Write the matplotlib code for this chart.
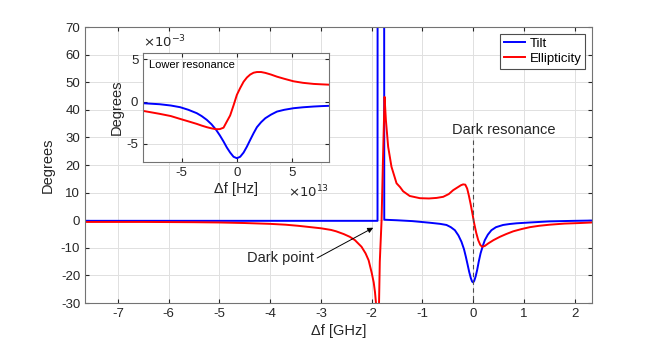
import numpy as np
from matplotlib import pyplot as plt

plt.rcParams['font.family'] = ['Liberation Sans', 'DejaVu Sans']
plt.rcParams['axes.unicode_minus'] = False

# main plot, detuning in GHz, angles in degrees
tilt_x = [-7.65, -6.0, -4.0, -3.0, -2.3, -1.95, -1.885, -1.883, -1.754, -1.752, -1.5, -1.2,
          -0.85, -0.65, -0.525, -0.44, -0.36, -0.29, -0.23, -0.18, -0.144, -0.11, -0.078, -0.045,
          -0.02, 0.0, 0.02, 0.05, 0.079, 0.11, 0.146, 0.19, 0.23, 0.29, 0.36, 0.45, 0.59, 0.72,
          0.855, 1.117, 1.5, 2.0, 2.34]
tilt_y = [-0.2, -0.2, -0.2, -0.2, -0.2, -0.2, -0.2, 90, 90, 0.2, 0.0, -0.3,
          -0.9, -1.3, -1.7, -2.5, -3.6, -5.5, -7.8, -10.5, -13.2, -16.0, -18.7, -21.0,
          -22.2, -22.5, -22.0, -20.3, -18.0, -15.0, -12.0, -9.3, -7.2, -5.2, -3.6, -2.5, -1.7, -1.35,
          -1.1, -0.8, -0.4, -0.2, -0.1]

ell_x = [-7.65, -6.5, -5.5, -5.0, -4.5, -4.0, -3.7, -3.45, -3.2, -3.0, -2.8, -2.7, -2.55, -2.43,
         -2.33, -2.2, -2.12, -2.06, -2.0, -1.96, -1.935, -1.915, -1.895, -1.88, -1.865, -1.84,
         -1.805, -1.78, -1.746, -1.72, -1.675, -1.61, -1.51, -1.44, -1.38, -1.25, -1.05, -0.87,
         -0.72, -0.59, -0.48, -0.394, -0.3, -0.24, -0.197, -0.155, -0.118, -0.085, -0.052, -0.015,
         0.02, 0.06, 0.1, 0.14, 0.177, 0.23, 0.296, 0.4, 0.526, 0.65, 0.79, 0.95, 1.117, 1.3,
         1.51, 1.8, 2.1, 2.34]
ell_y = [-0.6, -0.6, -0.7, -0.8, -1.0, -1.3, -1.6, -2.0, -2.5, -2.9, -3.5, -4.0, -5.0, -6.0,
         -7.2, -9.6, -12.0, -14.5, -19.0, -22.5, -26.0, -30.0, -40.0, -45.0, -40.0, -15.0,
         0.0, 20.0, 44.7, 36.3, 26.6, 19.4, 13.4, 12.0, 10.5, 8.8, 8.0, 7.9,
         8.1, 8.5, 9.5, 10.9, 12.0, 12.7, 13.0, 12.9, 11.5, 9.0, 6.1, 2.5,
         -1.1, -4.5, -7.2, -8.9, -9.6, -9.3, -8.4, -7.2, -6.0, -5.0, -4.0, -3.2, -2.5, -2.0,
         -1.6, -1.2, -1.0, -0.8]

# inset, lower resonance (x in 1e13 Hz, y in 1e-3 degrees)
in_x = [-8.5, -7.0, -6.0, -5.15, -4.4, -3.64, -3.2, -2.73, -2.3, -1.88, -1.55, -1.21, -0.91,
        -0.61, -0.3, 0.0, 0.3, 0.61, 0.91, 1.21, 1.52, 1.82, 2.2, 2.58, 3.1, 3.64, 4.3, 5.15,
        6.0, 6.97, 7.7, 8.36]
in_tilt = [-0.2, -0.32, -0.47, -0.67, -0.98, -1.38, -1.72, -2.17, -2.7, -3.36, -4.0, -4.74, -5.45,
           -6.05, -6.55, -6.72, -6.55, -6.05, -5.35, -4.55, -3.75, -3.04, -2.45, -1.98, -1.55,
           -1.19, -0.98, -0.79, -0.68, -0.59, -0.54, -0.51]
in_ell = [-1.11, -1.46, -1.72, -2.06, -2.35, -2.65, -2.85, -3.04, -3.18, -3.28, -3.27, -3.1, -2.37,
          -1.65, -0.45, 0.79, 1.6, 2.35, 2.85, 3.2, 3.42, 3.5, 3.5, 3.4, 3.2, 2.95, 2.7, 2.4,
          2.22, 2.09, 2.04, 2.0]

blue = (0, 0, 1)
red = (1, 0, 0)
edge = (0.15, 0.15, 0.15)

fig = plt.figure(figsize=(6.54, 3.63), dpi=100)
ax = fig.add_axes([0.130, 0.165, 0.775, 0.7606])
ax.plot(tilt_x, tilt_y, color=blue, lw=1.4, label='Tilt')
ax.plot(ell_x, ell_y, color=red, lw=1.4, label='Ellipticity')
ax.plot([0, 0], [29, -30], color=(0.3, 0.3, 0.3), lw=0.8, ls=(0, (4, 3)))
ax.set_xlim(-7.65, 2.34)
ax.set_ylim(-30, 70)
ax.set_xticks(range(-7, 3))
ax.set_yticks(range(-30, 71, 10))
ax.grid(True, color=(0.88, 0.88, 0.88), lw=0.7)
ax.set_axisbelow(True)
ax.tick_params(direction='in', top=True, right=True, labelsize=9.5, colors=edge, length=3)
for s in ax.spines.values():
    s.set_color((0.45, 0.45, 0.45))
ax.set_xlabel('Δf [GHz]', fontsize=10.5, color=edge, labelpad=3)
ax.set_ylabel('Degrees', fontsize=10.5, color=edge, labelpad=4)
leg = ax.legend(loc='upper right', fontsize=9.5, handlelength=1.6, handletextpad=0.3,
                borderpad=0.3, labelspacing=0.2, fancybox=False, framealpha=1,
                borderaxespad=0.5)
leg.get_frame().set_edgecolor((0.3, 0.3, 0.3))
leg.get_frame().set_linewidth(0.8)

ax.text(0.6, 32.7, 'Dark resonance', fontsize=10.5, color=edge, ha='center', va='center')
ax.annotate('Dark point', xy=(-1.97, -2.7), xytext=(-3.79, -13.7), fontsize=10.5, color=edge,
            ha='center', va='center',
            arrowprops=dict(arrowstyle='-|>', color='black', lw=0.7, mutation_scale=8,
                            shrinkA=0, shrinkB=0, relpos=(1.0, 0.4)))

ins = fig.add_axes([0.219, 0.553, 0.284, 0.302])
ins.plot(in_x, in_tilt, color=blue, lw=1.4)
ins.plot(in_x, in_ell, color=red, lw=1.4)
ins.set_xlim(-8.5, 8.36)
ins.set_ylim(-7.2, 5.8)
ins.set_xticks([-5, 0, 5])
ins.set_yticks([-5, 0, 5])
ins.grid(True, color=(0.88, 0.88, 0.88), lw=0.7)
ins.tick_params(direction='in', top=True, right=True, labelsize=9.5, colors=edge, length=3)
for s in ins.spines.values():
    s.set_color((0.45, 0.45, 0.45))
ins.set_xlabel('Δf [Hz]', fontsize=10.5, color=edge, labelpad=2)
ins.set_ylabel('Degrees', fontsize=10.5, color=edge, labelpad=2)
ins.text(0.03, 0.93, 'Lower resonance', transform=ins.transAxes, fontsize=8, color='black',
         ha='left', va='top')
ins.text(0.0, 1.02, r'$\times10^{-3}$', transform=ins.transAxes, fontsize=9.5, color=edge,
         ha='left', va='bottom')
ins.text(1.0, -0.2, r'$\times10^{13}$', transform=ins.transAxes, fontsize=9.5, color=edge,
         ha='right', va='top')

plt.savefig('out.png', dpi=100)
